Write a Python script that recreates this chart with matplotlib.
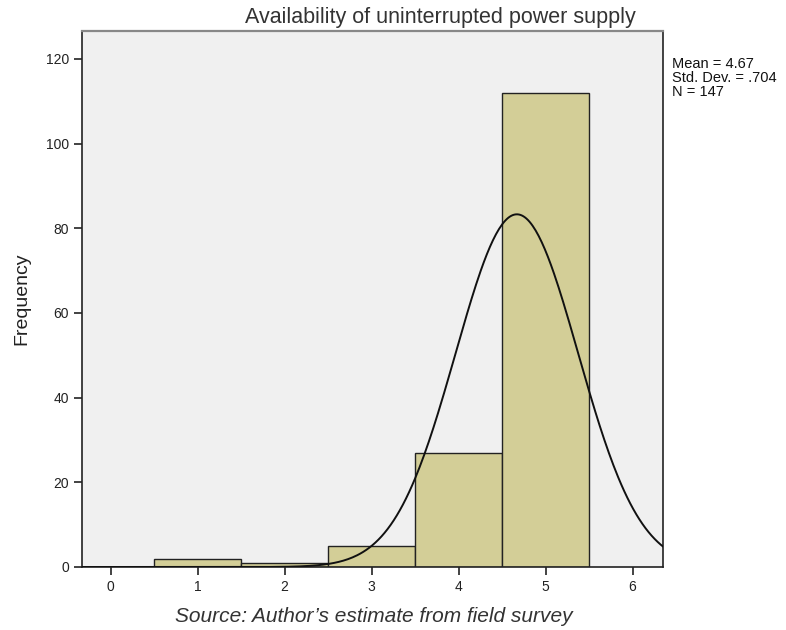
import numpy as np
import matplotlib
matplotlib.use("Agg")
import matplotlib.pyplot as plt

plt.rcParams['font.family'] = ['Liberation Sans', 'DejaVu Sans']

# histogram data
values = [1, 2, 3, 4, 5]
counts = [2, 1, 5, 27, 112]
mean_val = 4.67
sd_val = 0.704
n_obs = 147
xticks = [0, 1, 2, 3, 4, 5, 6]
yticks = [0, 20, 40, 60, 80, 100, 120]

fig = plt.figure(figsize=(7.86, 6.30), dpi=100)
ax = fig.add_axes([82/786, 63/630, (663-82)/786, (567-31)/630])
ax.set_facecolor('#f0f0f0')

ax.bar(values, counts, width=1.0, color='#d3ce97', edgecolor='#222222', linewidth=1.0, zorder=2)

# normal curve scaled to counts (bin width 1)
xs = np.linspace(-0.5, 6.5, 400)
ys = n_obs * np.exp(-0.5 * ((xs - mean_val) / sd_val) ** 2) / (sd_val * np.sqrt(2 * np.pi))
ax.plot(xs, ys, color='#111111', linewidth=1.4, zorder=3)

ax.set_xlim(-0.33, 6.35)
ax.set_ylim(0, 126.6)
ax.set_xticks(xticks)
ax.set_yticks(yticks)
ax.tick_params(axis='both', direction='out', length=6, width=1.2, color='#222222',
               labelsize=10, labelcolor='#222222')
for s in ['left', 'bottom', 'right']:
    ax.spines[s].set_color('#222222')
    ax.spines[s].set_linewidth(1.2)
ax.spines['top'].set_color('#888888')
ax.spines['top'].set_linewidth(1.6)

ax.set_ylabel('Frequency', fontsize=14, color='#222222', labelpad=11)

fig.text(440/786, 1 - 17/630, 'Availability of uninterrupted power supply',
         ha='center', va='center', fontsize=15.5, color='#333333')
fig.text(672/786, 1 - 57/630,
         'Mean = %.2f\nStd. Dev. = .%03d\nN = %d' % (mean_val, round(sd_val * 1000), n_obs),
         ha='left', va='top', fontsize=10.5, color='#111111', linespacing=1.0)
fig.text(374/786, 1 - 617/630, 'Source: Author\u2019s estimate from field survey',
         ha='center', va='center', fontsize=15, style='italic', color='#333333')

fig.savefig('out.png', dpi=100)
